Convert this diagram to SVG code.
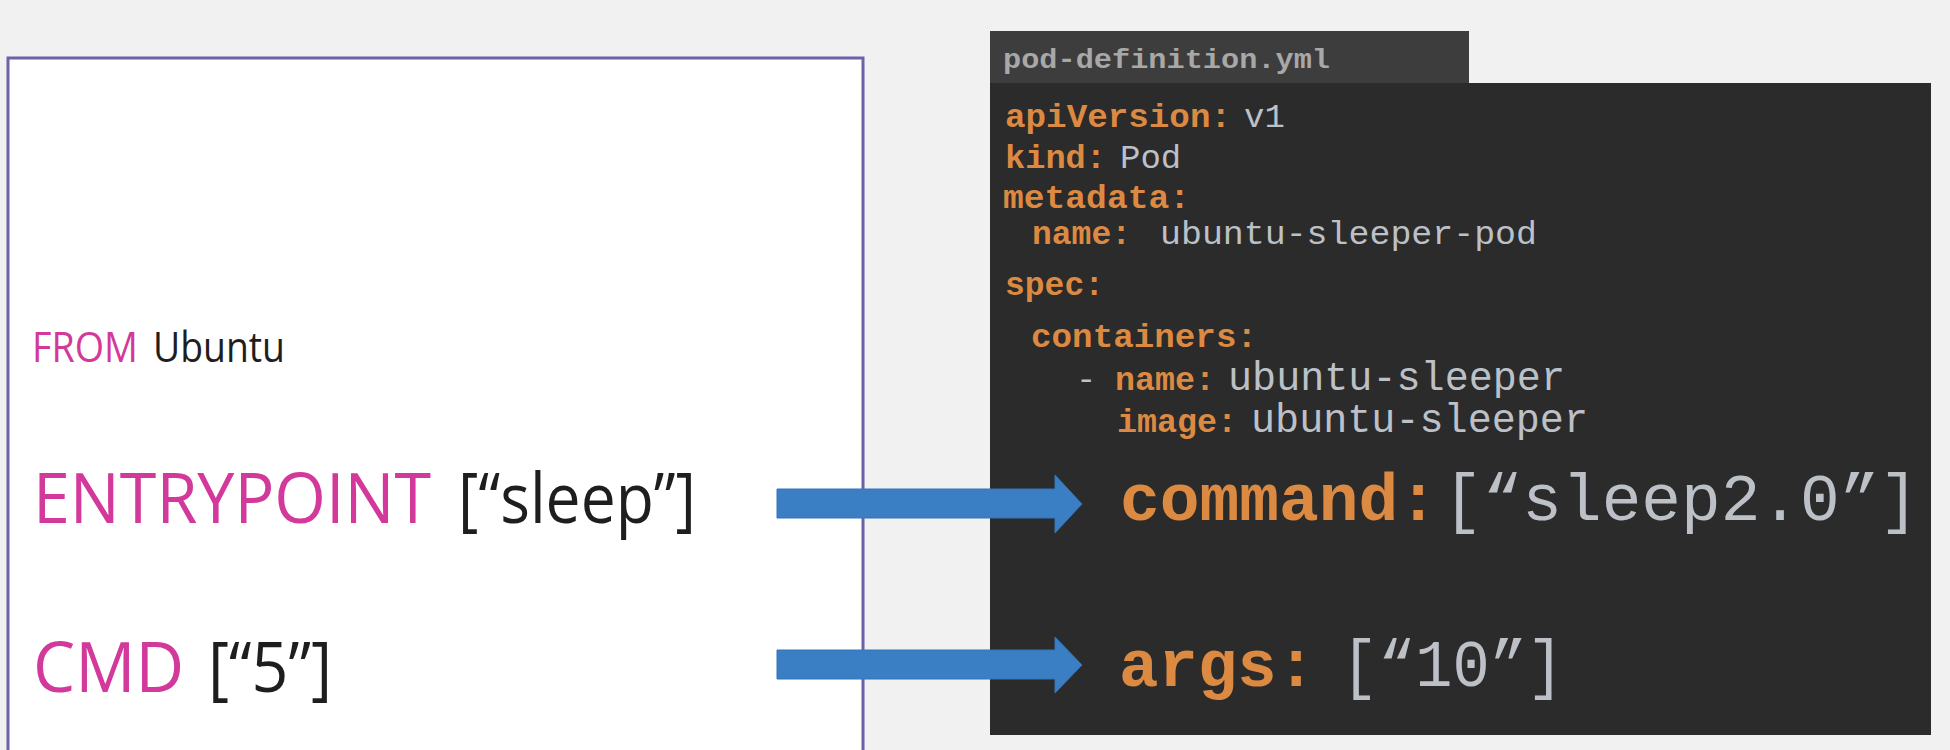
<svg xmlns="http://www.w3.org/2000/svg" width="1950" height="750" viewBox="0 0 1950 750">
  <style>
    .df { font-family: "Open Sans", "Noto Sans", sans-serif; }
    .kw { fill: #d2399a; }
    .val { fill: #1e1e1e; }
    .code { font-family: "Liberation Mono", "DejaVu Sans Mono", monospace; }
    .key { fill: #dc8a42; font-weight: bold; }
    .cv { fill: #bcc0c7; }
    .arrow { fill: #3a7fc4; stroke: #3274b8; stroke-width: 1; }
  </style>
  <rect x="0" y="0" width="1950" height="750" fill="#f1f1f2"/>

  <g id="dockerfile">
    <rect x="8" y="58" width="855" height="720" fill="#ffffff" stroke="#6b62a8" stroke-width="3"/>
    <text class="df" x="32" y="362" font-size="42"><tspan class="kw" textLength="106" lengthAdjust="spacingAndGlyphs">FROM</tspan><tspan class="val" x="153" textLength="132" lengthAdjust="spacingAndGlyphs">Ubuntu</tspan></text>
    <text class="df" x="33" y="523" font-size="70"><tspan class="kw" textLength="398" lengthAdjust="spacingAndGlyphs">ENTRYPOINT</tspan><tspan class="val" x="458" textLength="238" lengthAdjust="spacingAndGlyphs">[“sleep”]</tspan></text>
    <text class="df" x="33" y="692" font-size="70"><tspan class="kw" textLength="151" lengthAdjust="spacingAndGlyphs">CMD</tspan><tspan class="val" x="208" textLength="124" lengthAdjust="spacingAndGlyphs">[“5”]</tspan></text>
  </g>

  <g id="pod-definition">
    <rect x="990" y="31" width="479" height="53" fill="#3d3d3d"/>
    <rect x="990" y="83" width="941" height="652" fill="#2b2b2b"/>
    <text class="code" x="1003" y="68" font-size="28" font-weight="bold" fill="#a8a8a8" textLength="327" lengthAdjust="spacingAndGlyphs">pod-definition.yml</text>

    <text class="code" x="1005" y="127" font-size="34"><tspan class="key" textLength="226" lengthAdjust="spacingAndGlyphs">apiVersion:</tspan><tspan class="cv" x="1244">v1</tspan></text>
    <text class="code" x="1005" y="168" font-size="34"><tspan class="key" textLength="101" lengthAdjust="spacingAndGlyphs">kind:</tspan><tspan class="cv" x="1120">Pod</tspan></text>
    <text class="code key" x="1003" y="208" font-size="34" textLength="187" lengthAdjust="spacingAndGlyphs">metadata:</text>
    <text class="code" x="1032" y="244" font-size="34"><tspan class="key" textLength="99" lengthAdjust="spacingAndGlyphs">name:</tspan><tspan class="cv" x="1160" textLength="377" lengthAdjust="spacingAndGlyphs">ubuntu-sleeper-pod</tspan></text>
    <text class="code key" x="1005" y="295" font-size="34" textLength="99" lengthAdjust="spacingAndGlyphs">spec:</text>
    <text class="code key" x="1031" y="347" font-size="34" textLength="226" lengthAdjust="spacingAndGlyphs">containers:</text>
    <text class="code" x="1076" y="390" font-size="34"><tspan class="cv">-</tspan><tspan class="key" x="1115" textLength="100" lengthAdjust="spacingAndGlyphs">name:</tspan><tspan class="cv" x="1228" font-size="40" textLength="337" lengthAdjust="spacingAndGlyphs">ubuntu-sleeper</tspan></text>
    <text class="code" x="1117" y="432" font-size="34"><tspan class="key" textLength="120" lengthAdjust="spacingAndGlyphs">image:</tspan><tspan class="cv" x="1251" font-size="40" textLength="337" lengthAdjust="spacingAndGlyphs">ubuntu-sleeper</tspan></text>
    <text class="code" x="1120" y="520" font-size="66"><tspan class="key" textLength="318" lengthAdjust="spacingAndGlyphs">command:</tspan><tspan class="cv" x="1443" textLength="476" lengthAdjust="spacingAndGlyphs">[“sleep2.0”]</tspan></text>
    <text class="code" x="1119" y="686" font-size="66"><tspan class="key" textLength="197" lengthAdjust="spacingAndGlyphs">args:</tspan><tspan class="cv" x="1341" textLength="223" lengthAdjust="spacingAndGlyphs">[“10”]</tspan></text>
  </g>

  <g id="connectors">
    <polygon class="arrow" points="777,489 1055,489 1055,475 1082,504 1055,533 1055,518 777,518"/>
    <polygon class="arrow" points="777,650 1055,650 1055,637 1082,665 1055,693 1055,679 777,679"/>
  </g>
</svg>
